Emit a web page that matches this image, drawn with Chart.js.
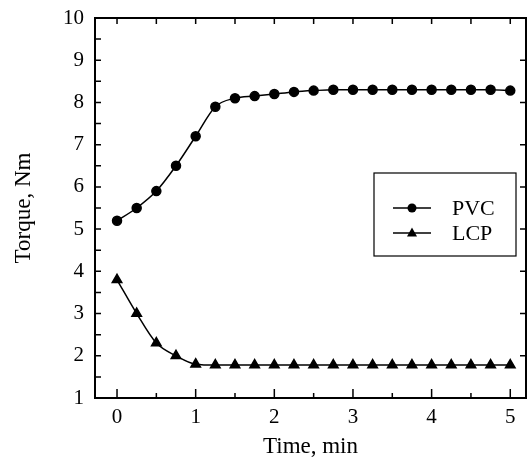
<!DOCTYPE html>
<html>
<head>
<meta charset="utf-8">
<script src="https://cdn.jsdelivr.net/npm/chart.js@4.4.1/dist/chart.umd.min.js"></script>
<style>
  html, body { margin: 0; padding: 0; background: #fff; }
  #wrap { width: 527px; height: 459px; }
</style>
</head>
<body>
<div id="wrap"><canvas id="torque"></canvas></div>
<script>
// torque vs time
const times = [0, 0.25, 0.5, 0.75, 1, 1.25, 1.5, 1.75, 2, 2.25, 2.5, 2.75, 3, 3.25, 3.5, 3.75, 4, 4.25, 4.5, 4.75, 5];
const pvc = [5.2, 5.5, 5.9, 6.5, 7.2, 7.9, 8.1, 8.15, 8.2, 8.25, 8.28, 8.3, 8.3, 8.3, 8.3, 8.3, 8.3, 8.3, 8.3, 8.3, 8.28];
const lcp = [3.8, 3.0, 2.3, 2.0, 1.8, 1.78, 1.78, 1.78, 1.78, 1.78, 1.78, 1.78, 1.78, 1.78, 1.78, 1.78, 1.78, 1.78, 1.78, 1.78, 1.78];
const xLabels = [0, 1, 2, 3, 4, 5];
const xMarks = [0, 0.5, 1, 1.5, 2, 2.5, 3, 3.5, 4, 4.5, 5];
const yMarks = [1, 1.5, 2, 2.5, 3, 3.5, 4, 4.5, 5, 5.5, 6, 6.5, 7, 7.5, 8, 8.5, 9, 9.5, 10];
const seriesNames = ['PVC', 'LCP'];

const serif = "'Liberation Serif', 'DejaVu Serif', serif";

function toPoints(ys) {
    return times.map((t, i) => ({ x: t, y: ys[i] }));
}

// frame, inward tick marks and the boxed legend
const framePlugin = {
    id: 'frame',
    afterDraw(chart) {
        const ctx = chart.ctx;
        const a = chart.chartArea;
        const xs = chart.scales.x, ys = chart.scales.y;
        ctx.save();
        ctx.strokeStyle = '#000';
        ctx.lineWidth = 2;
        ctx.strokeRect(a.left, a.top, a.right - a.left, a.bottom - a.top);

        ctx.lineWidth = 1.5;
        ctx.beginPath();
        xMarks.forEach(v => {
            const px = xs.getPixelForValue(v);
            const major = Number.isInteger(v);
            ctx.moveTo(px, a.bottom);
            ctx.lineTo(px, a.bottom - (major ? 9 : 5));
            ctx.moveTo(px, a.top);
            ctx.lineTo(px, a.top + 6);
        });
        yMarks.forEach(v => {
            const py = ys.getPixelForValue(v);
            ctx.moveTo(a.left, py);
            ctx.lineTo(a.left + 6, py);
            if (Number.isInteger(v)) {
                ctx.moveTo(a.right, py);
                ctx.lineTo(a.right - 6, py);
            }
        });
        ctx.stroke();

        // legend box
        const bx = 374, by = 173, bw = 142, bh = 83;
        ctx.lineWidth = 1.2;
        ctx.strokeRect(bx, by, bw, bh);
        ctx.font = '22px ' + serif;
        ctx.textBaseline = 'middle';
        ctx.fillStyle = '#000';
        chart.data.datasets.forEach((ds, i) => {
            const ly = 208 + i * 25;
            ctx.lineWidth = 1.5;
            ctx.beginPath();
            ctx.moveTo(393, ly);
            ctx.lineTo(431, ly);
            ctx.stroke();
            ctx.beginPath();
            if (ds.pointStyle === 'circle') {
                ctx.arc(412, ly, 4.5, 0, Math.PI * 2);
            } else {
                ctx.moveTo(412, ly - 5.5);
                ctx.lineTo(417, ly + 3.5);
                ctx.lineTo(407, ly + 3.5);
                ctx.closePath();
            }
            ctx.fill();
            ctx.fillText(ds.label, 452, ly + 1);
        });
        ctx.restore();
    }
};

new Chart(document.getElementById('torque'), {
    type: 'line',
    data: {
        datasets: [{
            label: seriesNames[0],
            data: toPoints(pvc),
            borderColor: '#000',
            backgroundColor: '#000',
            borderWidth: 1.5,
            pointStyle: 'circle',
            pointRadius: 4.5,
            cubicInterpolationMode: 'monotone'
        }, {
            label: seriesNames[1],
            data: toPoints(lcp),
            borderColor: '#000',
            backgroundColor: '#000',
            borderWidth: 1.5,
            pointStyle: 'triangle',
            pointRadius: 5.5,
            cubicInterpolationMode: 'monotone'
        }]
    },
    options: {
        responsive: true,
        maintainAspectRatio: false,
        animation: false,
        layout: { autoPadding: false, padding: { top: 18, right: 1, left: 0, bottom: 0 } },
        plugins: {
            legend: { display: false },
            tooltip: { enabled: false }
        },
        scales: {
            x: {
                type: 'linear',
                min: -0.28,
                max: 5.2,
                afterBuildTicks: s => { s.ticks = xLabels.map(v => ({ value: v })); },
                afterFit: s => { s.height = 61; s.paddingRight = 0; s.paddingLeft = 0; },
                grid: { display: false, drawTicks: false },
                border: { display: false },
                ticks: { color: '#000', padding: 7, font: { family: serif, size: 21 } },
                title: { display: true, text: 'Time, min', color: '#000', padding: { top: 8, bottom: -2 }, font: { family: serif, size: 23 } }
            },
            y: {
                min: 1,
                max: 10,
                afterFit: s => { s.width = 95; s.paddingTop = 0; s.paddingBottom = 0; },
                grid: { display: false, drawTicks: false },
                border: { display: false },
                ticks: { stepSize: 1, color: '#000', padding: 11, font: { family: serif, size: 21 } },
                title: { display: true, text: 'Torque, Nm', color: '#000', padding: { bottom: 0, top: 10 }, font: { family: serif, size: 23 } }
            }
        }
    },
    plugins: [framePlugin]
});
</script>
</body>
</html>
